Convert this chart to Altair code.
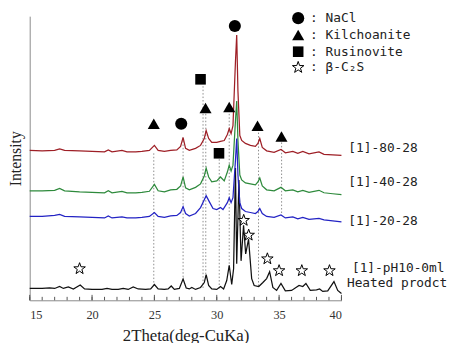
import altair as alt
import pandas as pd

# ---- XRD patterns (2theta in degrees, intensity in arbitrary units) ----
red_theta = [15.0, 16.0, 17.0, 17.4, 17.8, 19.0, 20.0, 21.0, 21.3, 21.6, 22.4, 22.8, 23.5, 24.0, 24.6,
             25.0, 25.3, 25.8, 26.3, 26.8, 27.1, 27.3, 27.5, 27.8, 28.3, 28.7, 29.0, 29.15, 29.35, 29.6,
             30.0, 30.3, 30.6, 30.85, 31.0, 31.15, 31.3, 31.5, 31.6, 31.7, 31.85, 32.0, 32.3, 32.7, 33.1,
             33.3, 33.45, 33.65, 34.0, 34.6, 35.15, 35.5, 36.1, 36.5, 36.9, 37.4, 38.2, 38.6, 39.3, 40.0]
red_int = [152, 151.5, 152, 153.5, 152, 151.5, 151, 150.5, 152.5, 150.5, 152, 150.5, 150.5, 151, 152,
           157, 152, 151, 152, 152.5, 156, 165, 154, 152, 154, 157, 164, 172, 164, 160,
           160, 161, 162, 168, 174, 169, 177, 242, 269, 212, 167, 162, 159, 157, 156,
           159, 164, 155, 151.5, 150, 153, 149.5, 151, 149, 151, 148.5, 150.5, 148, 147.5, 147]

green_theta = red_theta
green_int = [111, 111, 111.5, 113.5, 111, 110, 109.5, 109, 111, 109, 110.5, 109, 109, 109.5, 110.5,
             117.5, 111, 110, 112, 112.5, 116, 125, 114, 112, 114.5, 118, 126, 134, 125, 120,
             121, 125, 121, 130, 137, 131, 137, 182, 202, 162, 127, 122, 119, 118, 117,
             120, 124, 116, 112, 111, 114.5, 111, 112, 110, 111.5, 109.5, 111.5, 109, 108, 107]

blue_theta = [15.0, 16.0, 17.0, 17.4, 17.8, 19.0, 20.0, 21.0, 21.3, 21.6, 22.4, 22.8, 23.5, 24.0, 24.6,
              25.0, 25.3, 25.8, 26.3, 26.8, 27.1, 27.3, 27.5, 27.8, 28.3, 28.7, 29.0, 29.15, 29.4, 29.7,
              30.0, 30.3, 30.5, 30.85, 31.0, 31.15, 31.3, 31.5, 31.6, 31.7, 31.85, 32.0, 32.3, 32.7, 33.1,
              33.3, 33.45, 33.65, 34.0, 34.6, 35.15, 35.5, 36.1, 36.5, 36.9, 37.4, 38.2, 38.6, 39.3, 40.0]
blue_int = [85, 85, 86, 87, 85, 84.5, 84, 83.5, 85.5, 83.5, 84.5, 83.5, 83.5, 84, 85,
            89, 85, 84, 85.5, 86, 89, 95, 88, 85.5, 88, 94, 102, 106, 100, 93,
            92, 94, 92, 99, 104, 99, 104, 142, 164, 127, 99, 93, 90, 89, 88,
            90, 93, 88, 85, 84, 86.5, 83.5, 84.5, 82.5, 84, 82, 83, 81.5, 80.5, 79.5]

black_theta = [15.0, 16.0, 16.6, 17.0, 17.4, 17.7, 18.1, 18.5, 19.05, 19.4, 20.0, 20.8, 21.2, 21.6, 22.1,
               22.5, 22.9, 23.3, 23.7, 24.3, 24.7, 25.0, 25.3, 25.8, 26.1, 26.35, 26.6, 27.0, 27.3, 27.55,
               27.8, 28.0, 28.3, 28.7, 29.0, 29.15, 29.35, 29.6, 30.0, 30.3, 30.55, 30.8, 31.0, 31.2, 31.35,
               31.5, 31.6, 31.78, 31.95, 32.15, 32.32, 32.55, 32.8, 33.0, 33.37, 33.7, 34.0, 34.24, 34.5, 34.8,
               35.15, 35.5, 36.0, 36.6, 36.9, 37.15, 37.5, 38.0, 38.25, 38.5, 38.9, 39.4, 39.7, 40.0]
black_int = [12, 12, 12.5, 12, 14, 12, 13.5, 11.5, 15.5, 11.5, 11, 11, 12, 11, 11,
             12, 11, 13.5, 11.5, 11, 11.5, 16, 11.5, 11, 11.5, 14.5, 11, 12, 21.5, 12.5,
             11.5, 13, 11, 13, 18, 26, 15, 11.5, 11, 14, 11.5, 20, 35.5, 16, 32,
             134, 37, 122, 40, 76, 47, 62, 22, 15, 14, 18, 22, 29, 13, 10,
             17, 9.5, 10, 15, 14, 17, 10, 10.5, 11.5, 9, 9.5, 19, 10, 7]

# ---- phase markers ----
circle_theta = [27.15, 31.45]
circle_int = [179, 278]
tri_theta = [24.95, 29.1, 31.0, 33.27, 35.19]
tri_int = [179, 195, 196, 177, 166]
sq_theta = [28.7, 30.18]
sq_int = [224, 149]
star_theta = [19.0, 32.16, 32.56, 34.06, 35.0, 36.82, 39.04]
star_int = [32, 81, 66, 42, 30, 30, 30]

# ---- dotted reference lines ----
ref_theta = [24.95, 27.3, 28.9, 29.12, 30.2, 31.0, 33.35, 35.2]
ref_top = [149, 165, 217, 189, 143, 189, 170, 160]
ref_bottom = [14, 19, 12, 24, 12, 34, 14, 86]

# ---- right-hand labels ----
label_text = ["[1]-80-28", "[1]-40-28", "[1]-20-28", "[1]-pH10-0ml", "Heated prodct"]
label_theta = [40.55, 40.55, 40.55, 40.84, 40.44]
label_int = [154, 120, 80, 33, 17]

# ---- legend block ----
leg_names = ["NaCl", "Kilchoanite", "Rusinovite", "β-C₂S"]
leg_int = [286, 269, 252, 236]
leg_marker_theta = 36.53
leg_colon_theta = 37.78
leg_name_theta = 38.73

tick_minor = list(range(15, 41))
tick_major = [15, 20, 25, 30, 35, 40]

# five-pointed star outline in the unit box (-1..1)
STAR_PATH = ("M0,-1L0.235,-0.324L0.951,-0.309L0.380,0.124L0.588,0.809L0,0.4"
             "L-0.588,0.809L-0.380,0.124L-0.951,-0.309L-0.235,-0.324Z")

xs = alt.Scale(domain=[15, 40], nice=False, zero=False)
ys = alt.Scale(domain=[0, 288], nice=False, zero=False)

SERIF = "Liberation Serif"
MONO = "DejaVu Sans Mono"

x_axis = alt.Axis(values=tick_major, ticks=False, grid=False, domainColor="#8a8a8a",
                  labelFont=SERIF, labelFontSize=12.5, labelColor="#333333", labelPadding=8,
                  title="2Theta(deg-CuKa)", titleFont=SERIF, titleFontSize=17,
                  titleFontWeight="normal", titleColor="#222222", titlePadding=7)
y_axis = alt.Axis(labels=False, ticks=False, grid=False, domainColor="#8a8a8a",
                  title="Intensity", titleFont=SERIF, titleFontSize=16,
                  titleFontWeight="normal", titleColor="#222222", titlePadding=6)


def X(field):
    return alt.X(field, type="quantitative", scale=xs, axis=x_axis, title="2Theta(deg-CuKa)")


def Y(field):
    return alt.Y(field, type="quantitative", scale=ys, axis=y_axis, title="Intensity")


def pts(t, i):
    return pd.DataFrame({"t": t, "i": i})


refs = alt.Chart(pd.DataFrame({"t": ref_theta, "a": ref_top, "b": ref_bottom})).mark_rule(
    color="#8c8c8c", strokeDash=[1.5, 2], strokeWidth=1
).encode(x=X("t"), y=Y("a"), y2="b")

series = [(black_theta, black_int, "#111111"),
          (green_theta, green_int, "#2e8a3c"),
          (blue_theta, blue_int, "#2323c4"),
          (red_theta, red_int, "#9e1f26")]
line_layers = [
    alt.Chart(pts(t, i)).mark_line(color=c, strokeWidth=1.25).encode(x=X("t"), y=Y("i"))
    for t, i, c in series
]

minor_ticks = alt.Chart(pd.DataFrame({"t": tick_minor, "a": [0] * len(tick_minor),
                                      "b": [3.5] * len(tick_minor)})).mark_rule(
    color="#555555", strokeWidth=1).encode(x=X("t"), y=Y("a"), y2="b")
major_ticks = alt.Chart(pd.DataFrame({"t": tick_major, "a": [0] * len(tick_major),
                                      "b": [5.5] * len(tick_major)})).mark_rule(
    color="#555555", strokeWidth=1).encode(x=X("t"), y=Y("a"), y2="b")


def filled(t, i, shape, size):
    return alt.Chart(pts(t, i)).mark_point(shape=shape, filled=True, color="black",
                                           size=size, opacity=1).encode(x=X("t"), y=Y("i"))


def starred(t, i):
    return alt.Chart(pts(t, i)).mark_point(shape=STAR_PATH, filled=True, fill="white",
                                           stroke="black", strokeWidth=1, size=150,
                                           opacity=1).encode(x=X("t"), y=Y("i"))


marker_layers = [
    filled(circle_theta, circle_int, "circle", 150),
    filled(tri_theta, tri_int, "triangle-up", 150),
    filled(sq_theta, sq_int, "square", 115),
    starred(star_theta, star_int),
    filled([leg_marker_theta], [leg_int[0]], "circle", 150),
    filled([leg_marker_theta], [leg_int[1]], "triangle-up", 150),
    filled([leg_marker_theta], [leg_int[2]], "square", 115),
    starred([leg_marker_theta], [leg_int[3]]),
]

labels = alt.Chart(pd.DataFrame({"t": label_theta, "i": label_int, "txt": label_text})).mark_text(
    align="left", baseline="middle", font=MONO, fontSize=13, color="#222222").encode(
    x=X("t"), y=Y("i"), text="txt:N")

leg_colon = alt.Chart(pd.DataFrame({"t": [leg_colon_theta] * 4, "i": leg_int,
                                    "txt": [":"] * 4})).mark_text(
    align="center", baseline="middle", font=MONO, fontSize=13, color="#222222").encode(
    x=X("t"), y=Y("i"), text="txt:N")
leg_text = alt.Chart(pd.DataFrame({"t": [leg_name_theta] * 4, "i": leg_int,
                                   "txt": leg_names})).mark_text(
    align="left", baseline="middle", font=MONO, fontSize=13, color="#222222").encode(
    x=X("t"), y=Y("i"), text="txt:N")

chart = alt.layer(refs, *line_layers, minor_ticks, major_ticks, *marker_layers,
                  labels, leg_colon, leg_text).properties(
    width=316, height=288,
    autosize=alt.AutoSizeParams(type="none"),
    padding={"left": 22, "top": 6, "right": 108, "bottom": 41},
).configure_view(stroke=None)

chart.save("out.html", embed_options={"renderer": "svg", "actions": False})
